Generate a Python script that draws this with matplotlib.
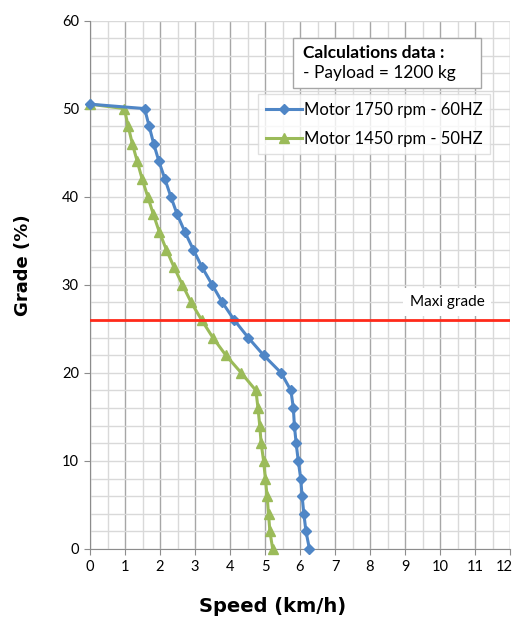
import numpy as np
import matplotlib.pyplot as plt
from matplotlib.ticker import MultipleLocator

# grade (%) on y, speed (km/h) on x
grade = [50.5, 50, 48, 46, 44, 42, 40, 38, 36, 34, 32, 30, 28, 26, 24, 22,
         20, 18, 16, 14, 12, 10, 8, 6, 4, 2, 0]
speed_60hz = [0.0, 1.56, 1.69, 1.82, 1.97, 2.14, 2.31, 2.49, 2.71, 2.95, 3.20,
              3.49, 3.78, 4.12, 4.52, 4.96, 5.46, 5.74, 5.81, 5.84, 5.89,
              5.95, 6.02, 6.06, 6.11, 6.17, 6.27]
speed_50hz = [0.0, 0.98, 1.09, 1.21, 1.35, 1.49, 1.65, 1.81, 1.98, 2.18, 2.40,
              2.64, 2.89, 3.19, 3.51, 3.88, 4.32, 4.74, 4.80, 4.85, 4.89,
              4.96, 5.01, 5.06, 5.10, 5.14, 5.22]
max_grade = 26
x_ticks = list(range(13))

plt.rcParams['font.family'] = ['Lato', 'DejaVu Sans']

fig = plt.figure(figsize=(5.16, 6.26), dpi=100)
ax = fig.add_axes([90/516, 1-549/626, 420/516, 528.5/626])

ax.set_xlim(0, 12)
ax.set_ylim(0, 60)
# last label is drawn separately, shifted inward like the original
ax.set_xticks(x_ticks, [str(t) for t in x_ticks[:-1]] + [''])
ax.xaxis.set_minor_locator(MultipleLocator(0.5))
ax.yaxis.set_major_locator(MultipleLocator(10))
ax.yaxis.set_minor_locator(MultipleLocator(2))
ax.grid(which='minor', color='#d9d9d9', lw=1)
ax.grid(which='major', axis='x', color='#a6a6a6', lw=1)
ax.grid(which='major', axis='y', color='#d9d9d9', lw=1)
ax.set_axisbelow(True)
for s in ['top', 'right']:
    ax.spines[s].set_visible(False)
for s in ['left', 'bottom']:
    ax.spines[s].set_color('#8c8c8c')
ax.tick_params(which='major', length=4, color='#8c8c8c', labelsize=10.5, pad=4)
ax.tick_params(which='minor', length=0)
fig.text(504/516, 1-567/626, str(x_ticks[-1]), ha='center', va='center',
         fontsize=10.5)

ax.plot(speed_60hz, grade, color='#4f86c6', lw=2.2, marker='D', ms=5,
        label='Motor 1750 rpm - 60HZ', clip_on=False, zorder=4)
ax.plot(speed_50hz, grade, color='#9bbb59', lw=2.2, marker='^', ms=7,
        label='Motor 1450 rpm - 50HZ', clip_on=False, zorder=3)
ax.axhline(max_grade, color='#ff2a1a', lw=2, zorder=5)
ax.text(10.2, 28.0, 'Maxi grade', ha='center', va='center', fontsize=11,
        bbox=dict(facecolor='white', edgecolor='none', pad=5))

# calculation data box (axes fraction, from pixel positions)
bx0, bx1 = (293-90)/420, (481-90)/420
by0, by1 = (549-88)/528.5, (549-38)/528.5
ax.add_patch(plt.Rectangle((bx0, by0), bx1-bx0, by1-by0, transform=ax.transAxes,
                           facecolor='white', edgecolor='#a6a6a6', lw=1, zorder=6))
ax.text((303-90)/420, (549-53)/528.5, 'Calculations data :', transform=ax.transAxes,
        fontsize=12.5, fontweight='bold', va='center', zorder=7)
ax.text((303-90)/420, (549-73)/528.5, '- Payload = 1200 kg', transform=ax.transAxes,
        fontsize=12.5, va='center', zorder=7)

leg = ax.legend(loc='upper left', bbox_to_anchor=(258/516, 1-94/626),
                bbox_transform=fig.transFigure, fontsize=12, frameon=True,
                fancybox=False, handlelength=2.2, handletextpad=0.1,
                borderpad=0.45, labelspacing=0.8, borderaxespad=0)
leg.get_frame().set_edgecolor('#d9d9d9')
leg.get_frame().set_linewidth(1)

fig.text(273/516, 1-607/626, 'Speed (km/h)', ha='center', va='center',
         fontsize=14, fontweight='bold', family='DejaVu Sans')
fig.text(23/516, 1-265/626, 'Grade (%)', ha='center', va='center', rotation=90,
         fontsize=13, fontweight='bold', family='DejaVu Sans')

fig.savefig('out.png', dpi=100)
